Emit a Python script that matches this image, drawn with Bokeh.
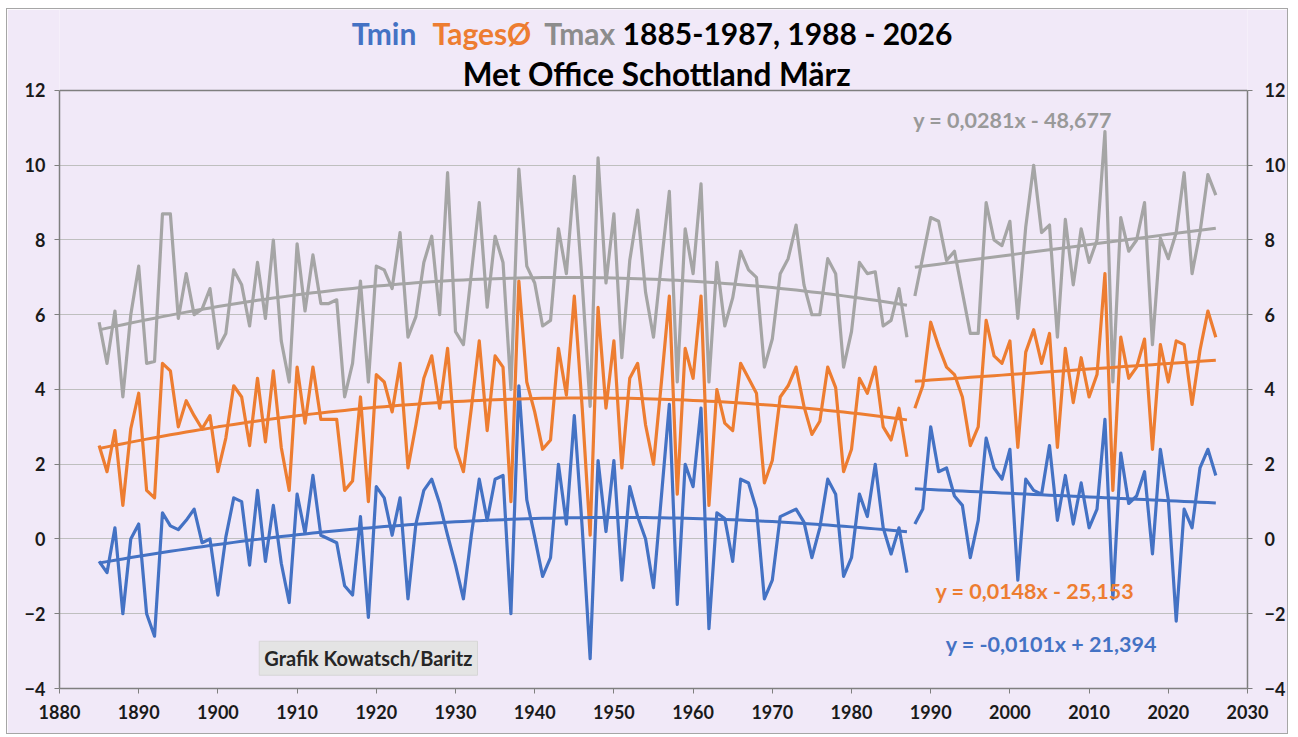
import numpy as np
from bokeh.plotting import figure
from bokeh.models import (Range1d, LinearAxis, SingleIntervalTicker, FixedTicker,
                          Label, Span)
from bokeh.embed import file_html
from bokeh.resources import INLINE

# ---------------- data ----------------
years_a = list(range(1885, 1988))
years_b = list(range(1988, 2027))

tmax_a = [5.8, 4.7, 6.1, 3.8, 6.0, 7.3, 4.7, 4.75, 8.7, 8.7,
          5.9, 7.1, 6.0, 6.15, 6.7, 5.1, 5.5, 7.2, 6.8, 5.7,
          7.4, 5.9, 8.0, 5.3, 4.2, 7.9, 6.1, 7.6, 6.3, 6.3,
          6.4, 3.8, 4.7, 6.9, 4.2, 7.3, 7.2, 6.7, 8.2, 5.4,
          5.95, 7.4, 8.1, 6.0, 9.8, 5.55, 5.2, 7.1, 9.0, 6.2,
          8.1, 7.4, 4.0, 9.9, 7.3, 6.85, 5.7, 5.85, 8.3, 7.1,
          9.7, 6.85, 3.55, 10.2, 6.85, 8.7, 4.85, 7.45, 8.8, 6.6,
          5.4, 7.4, 9.3, 4.2, 8.3, 7.1, 9.5, 4.2, 7.4, 5.7,
          6.45, 7.7, 7.2, 7.0, 4.6, 5.35, 7.1, 7.5, 8.4, 6.8,
          6.0, 6.0, 7.5, 7.1, 4.6, 5.55, 7.4, 7.1, 7.15, 5.7,
          5.85, 6.7, 5.4]
tmax_b = [6.5, 7.55, 8.6, 8.5, 7.45, 7.7, 6.6, 5.5, 5.5, 9.0,
          8.0, 7.85, 8.5, 5.9, 8.35, 10.0, 8.2, 8.4, 5.4, 8.55,
          6.8, 8.3, 7.4, 8.0, 10.9, 4.2, 8.6, 7.7, 8.0, 9.0,
          5.2, 8.05, 7.5, 8.2, 9.8, 7.1, 8.2, 9.75, 9.2]

tavg_a = [2.5, 1.8, 2.9, 0.9, 2.95, 3.9, 1.3, 1.1, 4.7, 4.5,
          3.0, 3.7, 3.3, 2.95, 3.3, 1.8, 2.7, 4.1, 3.8, 2.5,
          4.3, 2.6, 4.5, 2.45, 1.3, 4.6, 3.1, 4.6, 3.2, 3.2,
          3.2, 1.3, 1.55, 3.8, 1.0, 4.4, 4.2, 3.4, 4.7, 1.9,
          3.05, 4.3, 4.9, 3.5, 5.1, 2.45, 1.8, 3.5, 5.3, 2.9,
          4.9, 4.6, 1.0, 6.9, 4.2, 3.4, 2.4, 2.65, 5.1, 3.85,
          6.5, 3.5, 0.1, 6.2, 3.5, 5.3, 1.9, 4.3, 4.7, 3.05,
          2.0, 4.2, 6.5, 1.2, 5.1, 4.3, 6.5, 0.9, 4.0, 3.1,
          2.9, 4.7, 4.3, 3.9, 1.5, 2.1, 3.8, 4.1, 4.6, 3.55,
          2.8, 3.15, 4.6, 4.05, 1.8, 2.4, 4.3, 3.9, 4.6, 3.0,
          2.65, 3.5, 2.2]
tavg_b = [3.5, 4.1, 5.8, 5.15, 4.6, 4.4, 3.8, 2.5, 3.0, 5.85,
          4.9, 4.7, 5.3, 2.45, 5.0, 5.6, 4.7, 5.5, 2.45, 5.1,
          3.65, 4.85, 3.8, 4.4, 7.1, 1.3, 5.4, 4.3, 4.6, 5.35,
          2.4, 5.2, 4.2, 5.3, 5.2, 3.6, 5.05, 6.1, 5.4]

tmin_a = [-0.6, -0.9, 0.3, -2.0, 0.0, 0.4, -2.0, -2.6, 0.7, 0.35,
          0.25, 0.5, 0.8, -0.1, 0.0, -1.5, 0.05, 1.1, 1.0, -0.7,
          1.3, -0.6, 0.9, -0.65, -1.7, 1.2, 0.15, 1.7, 0.1, 0.0,
          -0.1, -1.25, -1.5, 0.6, -2.1, 1.4, 1.1, 0.1, 1.1, -1.6,
          0.4, 1.3, 1.6, 0.95, 0.1, -0.7, -1.6, 0.1, 1.6, 0.5,
          1.6, 1.7, -2.0, 4.1, 1.05, 0.05, -1.0, -0.5, 2.0, 0.4,
          3.3, 0.3, -3.2, 2.1, 0.2, 2.1, -1.1, 1.4, 0.6, 0.0,
          -1.3, 1.15, 3.6, -1.75, 2.0, 1.4, 3.5, -2.4, 0.7, 0.55,
          -0.6, 1.6, 1.5, 0.8, -1.6, -1.1, 0.6, 0.7, 0.8, 0.45,
          -0.5, 0.3, 1.6, 1.2, -1.0, -0.5, 1.2, 0.6, 2.0, 0.3,
          -0.4, 0.3, -0.9]
tmin_b = [0.4, 0.8, 3.0, 1.8, 1.9, 1.15, 0.9, -0.5, 0.5, 2.7,
          1.9, 1.6, 2.4, -1.1, 1.6, 1.3, 1.2, 2.5, 0.5, 1.7,
          0.4, 1.5, 0.3, 0.8, 3.2, -1.6, 2.3, 0.95, 1.15, 1.8,
          -0.4, 2.4, 1.05, -2.2, 0.8, 0.3, 1.9, 2.4, 1.7]

x_ticks_interval = 10
y_ticks = [-4, -2, 0, 2, 4, 6, 8, 10, 12]
title_parts = ["Tmin", "TagesØ", "Tmax", "1885-1987, 1988 - 2026"]
title_line2 = "Met Office Schottland März"
eq_tmax = "y = 0,0281x - 48,677"
eq_tavg = "y = 0,0148x - 25,153"
eq_tmin = "y = -0,0101x + 21,394"
credit = "Grafik Kowatsch/Baritz"

# ---------------- style ----------------
BLUE = "#4472C4"
ORANGE = "#ED7D31"
GRAY = "#A5A5A5"
BG = "#F1E9F8"
FONT = "Lato"
TXT = "#1a1a1a"
FRAME = "#7F7F7F"
Y_LO, Y_HI = -4, 12
Y_TOP = 14.167   # head room above the plot area for the title

p = figure(width=1282, height=726, output_backend="svg", toolbar_location=None,
           x_range=Range1d(1880, 2030), y_range=Range1d(Y_LO, Y_TOP),
           min_border_left=52, min_border_right=42, min_border_top=0,
           min_border_bottom=47)
p.styles = {"border": "1px solid #A6A6A6", "margin-left": "6px", "margin-top": "8px"}
p.background_fill_color = BG
p.border_fill_color = BG
p.outline_line_color = None

p.xaxis.ticker = SingleIntervalTicker(interval=x_ticks_interval)
p.yaxis.ticker = FixedTicker(ticks=y_ticks)
p.yaxis.bounds = (Y_LO, Y_HI)
p.xgrid.ticker = SingleIntervalTicker(interval=x_ticks_interval)
p.ygrid.ticker = FixedTicker(ticks=y_ticks[:-1])
p.xgrid.bounds = (Y_LO, Y_HI)
for g in (p.xgrid, p.ygrid):
    g.grid_line_color = "#BFBFBF"
    g.grid_line_width = 1.2

right_axis = LinearAxis(ticker=FixedTicker(ticks=y_ticks), bounds=(Y_LO, Y_HI))
p.add_layout(right_axis, "right")
p.add_layout(Span(location=Y_HI, dimension="width", line_color=FRAME,
                  line_width=1.5))

for ax in p.axis:
    ax.major_label_text_font = FONT
    ax.major_label_text_font_style = "bold"
    ax.major_label_text_font_size = "18px"
    ax.major_label_text_color = TXT
    ax.axis_line_color = FRAME
    ax.axis_line_width = 1.5
    ax.major_tick_line_color = FRAME
    ax.major_tick_out = 5
    ax.major_tick_in = 0
    ax.minor_tick_out = 0
    ax.minor_tick_in = 0
    ax.major_label_standoff = 12
p.yaxis[0].major_label_standoff = 9
p.xaxis.major_label_standoff = 11

# data lines
for xs, ys, col in [(years_a, tmin_a, BLUE), (years_b, tmin_b, BLUE),
                    (years_a, tavg_a, ORANGE), (years_b, tavg_b, ORANGE),
                    (years_a, tmax_a, GRAY), (years_b, tmax_b, GRAY)]:
    p.line(xs, ys, line_color=col, line_width=3.2, line_join="round")

# trend lines (fitted from the data, like Excel trendlines)
ya = np.array(years_a, dtype=float)
yb = np.array(years_b, dtype=float)
for ser_a, ser_b, col in [(tmin_a, tmin_b, BLUE), (tavg_a, tavg_b, ORANGE),
                          (tmax_a, tmax_b, GRAY)]:
    ca = np.polyfit(ya, ser_a, 2)
    cb = np.polyfit(yb, ser_b, 1)
    p.line(ya, np.polyval(ca, ya), line_color=col, line_width=3)
    p.line(yb, np.polyval(cb, yb), line_color=col, line_width=3)

# title (multi-coloured first line)
title_x = [1916.9, 1927.1, 1941.2, 1951.1]
title_cols = [BLUE, ORANGE, "#8C8C8C", "#000000"]
for t, xx, c in zip(title_parts, title_x, title_cols):
    p.add_layout(Label(x=xx, y=13.54, text=t, text_color=c, text_font=FONT,
                       text_font_style="bold", text_font_size="30px",
                       text_baseline="middle", text_align="left"))
p.add_layout(Label(x=1955.4, y=12.43, text=title_line2, text_color="#000000",
                   text_font=FONT, text_font_style="bold", text_font_size="31.5px",
                   text_baseline="middle", text_align="center"))

# equation labels
for t, xx, yy, c in [(eq_tmax, 1987.8, 11.2, "#999999"),
                     (eq_tavg, 1990.6, -1.40, ORANGE),
                     (eq_tmin, 1991.9, -2.80, BLUE)]:
    p.add_layout(Label(x=xx, y=yy, text=t, text_color=c, text_font=FONT,
                       text_font_style="bold", text_font_size="21.5px",
                       text_baseline="middle", text_align="left"))

p.add_layout(Label(x=1919.0, y=-3.19, text=credit, text_color="#262626",
                   text_font=FONT, text_font_style="bold", text_font_size="20px",
                   text_baseline="middle", text_align="center",
                   background_fill_color="#E4E4E4", border_line_color="#D6D6D6",
                   padding=5))

open("out.html", "w").write(file_html(p, INLINE))
